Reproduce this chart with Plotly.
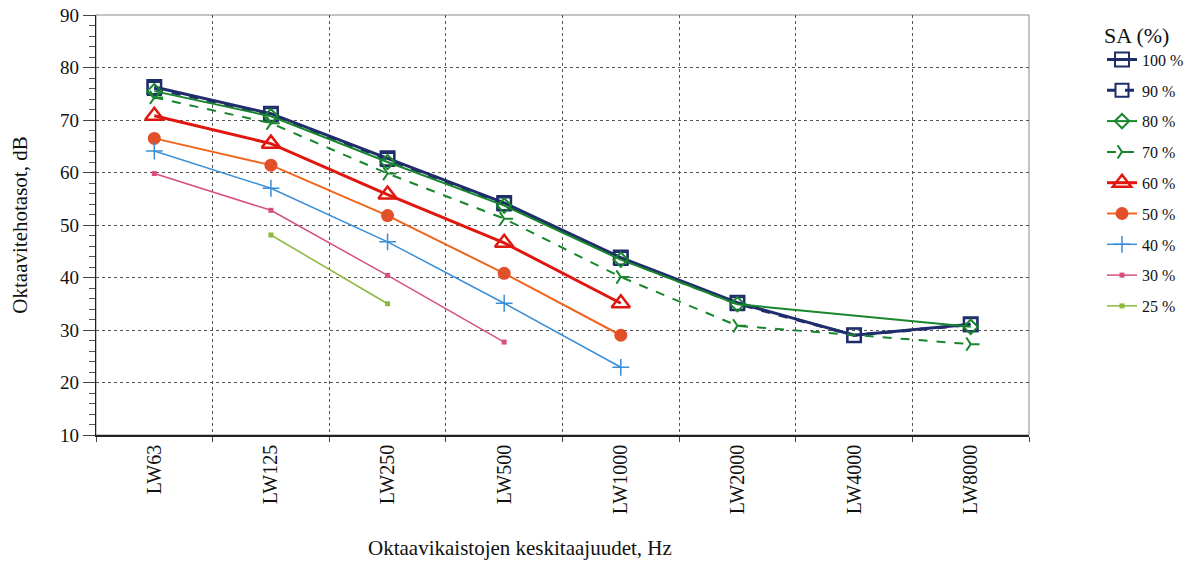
import plotly.graph_objects as go

categories = ["LW63", "LW125", "LW250", "LW500", "LW1000", "LW2000", "LW4000", "LW8000"]

sa_100 = [76.3, 71.2, 62.7, 54.2, 43.8, 35.2, 29.0, 31.1]
sa_90 = [76.0, 71.0, 62.5, 54.0, 43.6, 35.0, 29.0, 31.0]
sa_80 = [75.5, 70.7, 62.0, 53.7, 43.4, 34.9, None, 30.6]
sa_70 = [74.3, 69.4, 59.8, 51.2, 40.1, 30.8, None, 27.3]
sa_60 = [70.8, 65.5, 55.8, 46.6, 35.1]
sa_50 = [66.5, 61.4, 51.8, 40.8, 29.0]
sa_40 = [64.1, 57.0, 46.8, 35.1, 22.9]
sa_30 = [59.8, 52.8, 40.4, 27.7]
sa_25 = [None, 48.1, 35.0]

series_names = ["100 %", "90 %", "80 %", "70 %", "60 %", "50 %", "40 %", "30 %", "25 %"]

FONT = "Liberation Serif, Times New Roman, serif"

W, H = 1198, 563

fig = go.Figure()

styles = [
    (sa_100, dict(color="#1f2d6b", width=3, dash="solid"), dict(symbol="square-open", size=14, color="#1f2d6b", line=dict(width=2))),
    (sa_90, dict(color="#1f2d6b", width=3, dash="dash"), dict(symbol="square-open", size=13, color="#1f2d6b", line=dict(width=2))),
    (sa_80, dict(color="#17862c", width=2, dash="solid"), dict(symbol="diamond-open", size=11, color="#17862c", line=dict(width=2))),
    (sa_70, dict(color="#17862c", width=2, dash="dash"), dict(symbol="y-right-open", size=11, color="#17862c", line=dict(width=2, color="#17862c"))),
    (sa_60, dict(color="#e0170f", width=3, dash="solid"), dict(symbol="triangle-up-open", size=16, color="#e0170f", line=dict(width=2.5))),
    (sa_50, dict(color="#f0641c", width=2, dash="solid"), dict(symbol="circle", size=13, color="#e2502a", line=dict(width=0))),
    (sa_40, dict(color="#3a8ed8", width=1.5, dash="solid"), dict(symbol="cross-thin-open", size=12, color="#3a8ed8", line=dict(width=1.5, color="#3a8ed8"))),
    (sa_30, dict(color="#d8507a", width=1.5, dash="solid"), dict(symbol="square", size=5, color="#d8507a")),
    (sa_25, dict(color="#8cb83c", width=1.5, dash="solid"), dict(symbol="square", size=5, color="#8cb83c")),
]

for name, (vals, line, marker) in zip(series_names, styles):
    fig.add_trace(go.Scatter(
        x=categories[:len(vals)],
        y=vals,
        name=name,
        mode="lines+markers",
        line=line,
        marker=marker,
        connectgaps=True,
        legendgroup=name,
    ))

fig.add_shape(type="rect", xref="paper", yref="paper", x0=0, x1=1, y0=0, y1=1,
              line=dict(color="#8a8a8a", width=1), layer="below")

fig.add_annotation(text="Oktaavikaistojen keskitaajuudet, Hz", xref="paper", yref="paper",
                   x=(520 - 96) / 933, y=-(548 - 435) / 420, xanchor="center", yanchor="middle",
                   showarrow=False, font=dict(family=FONT, size=21, color="#111"))

fig.update_layout(
    width=W, height=H,
    margin=dict(l=96, r=169, t=15, b=128, autoexpand=False),
    paper_bgcolor="white", plot_bgcolor="white",
    font=dict(family=FONT, color="#111"),
    legend=dict(
        title=dict(text="SA (%)", font=dict(family=FONT, size=22)),
        font=dict(family=FONT, size=16),
        xref="container", yref="container",
        x=1102 / W, y=1 - 14 / H, xanchor="left", yanchor="top",
        tracegroupgap=7,
        maxheight=1,
        bgcolor="rgba(0,0,0,0)",
    ),
    showlegend=True,
)

fig.update_xaxes(
    type="category",
    categoryorder="array", categoryarray=categories,
    range=[-0.5, 7.5],
    tickson="boundaries",
    ticks="outside", ticklen=5, tickcolor="#444",
    tickangle=-90,
    tickfont=dict(family=FONT, size=20, color="#111"),
    showline=True, linecolor="#222", linewidth=1.5,
    showgrid=True, gridcolor="#555", griddash="dot", gridwidth=1,
    zeroline=False,
)

fig.update_yaxes(
    range=[10, 90],
    dtick=10,
    ticks="outside", ticklen=12, tickcolor="#444",
    minor=dict(dtick=2, ticks="outside", ticklen=6, tickcolor="#555", showgrid=False),
    tickfont=dict(family=FONT, size=19, color="#111"),
    title=dict(text="Oktaavitehotasot, dB", font=dict(family=FONT, size=21), standoff=26),
    showline=True, linecolor="#222", linewidth=1.2,
    showgrid=True, gridcolor="#555", griddash="dot", gridwidth=1,
    zeroline=False,
)

fig.write_html("out.html", config={"displayModeBar": False},
               post_script="document.body.style.margin='0';")
